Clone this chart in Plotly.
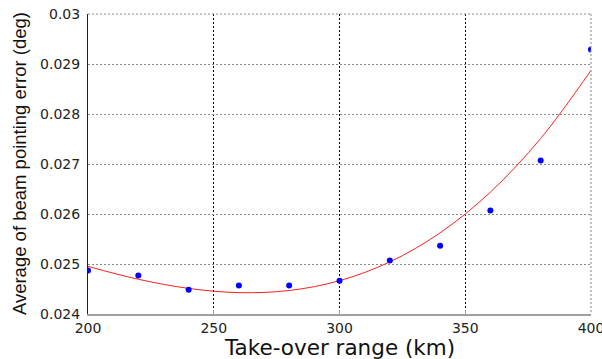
import plotly.graph_objects as go

# Measured points
takeover_km = [200, 220, 240, 260, 280, 300, 320, 340, 360, 380, 400]
mean_error_deg = [0.024872, 0.024772, 0.024486, 0.024572, 0.024572, 0.024666,
                  0.025072, 0.025366, 0.026072, 0.027072, 0.029292]

# Fitted curve
fit_km = [200, 220, 240, 260, 280, 300, 320, 340, 360, 380, 400]
fit_error_deg = [0.024952, 0.024695, 0.024512, 0.024427, 0.024470, 0.024666,
                 0.025042, 0.025623, 0.026438, 0.027512, 0.028872]

x_ticks = [200, 250, 300, 350, 400]
x_tick_text = ["200", "250", "300", "350", "400"]
y_ticks = [0.024, 0.025, 0.026, 0.027, 0.028, 0.029, 0.03]
y_tick_text = ["0.024", "0.025", "0.026", "0.027", "0.028", "0.029", "0.03"]

fig = go.Figure()
fig.add_trace(go.Scatter(x=fit_km, y=fit_error_deg, mode="lines",
                         line=dict(color="#ff2020", width=1, shape="spline"),
                         showlegend=False))
fig.add_trace(go.Scatter(x=takeover_km, y=mean_error_deg, mode="markers",
                         marker=dict(color="#0000ff", size=6, line=dict(width=0)),
                         showlegend=False))

tick_font = dict(family="DejaVu Sans", size=14, color="#222222")

fig.update_layout(
    width=602, height=359,
    margin=dict(l=88, r=10.5, t=14.3, b=44.7, autoexpand=False),
    paper_bgcolor="white", plot_bgcolor="white",
    xaxis=dict(range=[200, 400], tickvals=x_ticks, ticktext=x_tick_text,
               showgrid=True, gridcolor="#000000", griddash="2px,2px", gridwidth=1,
               showline=True, linecolor="#a0a0a0", linewidth=2,
               ticks="inside", ticklen=4, tickcolor="#a0a0a0",
               ticklabeloverflow="allow", automargin=False,
               tickfont=tick_font, zeroline=False, fixedrange=True),
    yaxis=dict(range=[0.024, 0.03], tickvals=y_ticks, ticktext=y_tick_text,
               showgrid=True, gridcolor="#888888", griddash="2px,2px", gridwidth=1,
               showline=True, linecolor="#222222", linewidth=1,
               ticks="", tickfont=tick_font, ticklabelstandoff=4,
               ticklabeloverflow="allow", automargin=False,
               zeroline=False, fixedrange=True),
    shapes=[
        dict(type="line", xref="paper", yref="paper", x0=1, x1=1, y0=1, y1=0,
             line=dict(color="#999999", width=1.2, dash="2px,2px")),
        dict(type="line", xref="paper", yref="paper", x0=0, x1=1, y0=1, y1=1,
             line=dict(color="#888888", width=1, dash="2px,2px")),
    ],
    annotations=[
        dict(text="Take-over range (km)", xref="paper", yref="paper",
             x=0.5, y=-0.112, xanchor="center", yanchor="middle",
             showarrow=False, font=dict(family="DejaVu Sans", size=21.5, color="#111111")),
        dict(text="Average of beam pointing error (deg)", xref="paper", yref="paper",
             x=-0.137, y=0.5, xanchor="center", yanchor="middle", textangle=-90,
             showarrow=False, font=dict(family="Liberation Sans", size=18.5, color="#111111")),
    ],
)

fig.write_html("out.html")
